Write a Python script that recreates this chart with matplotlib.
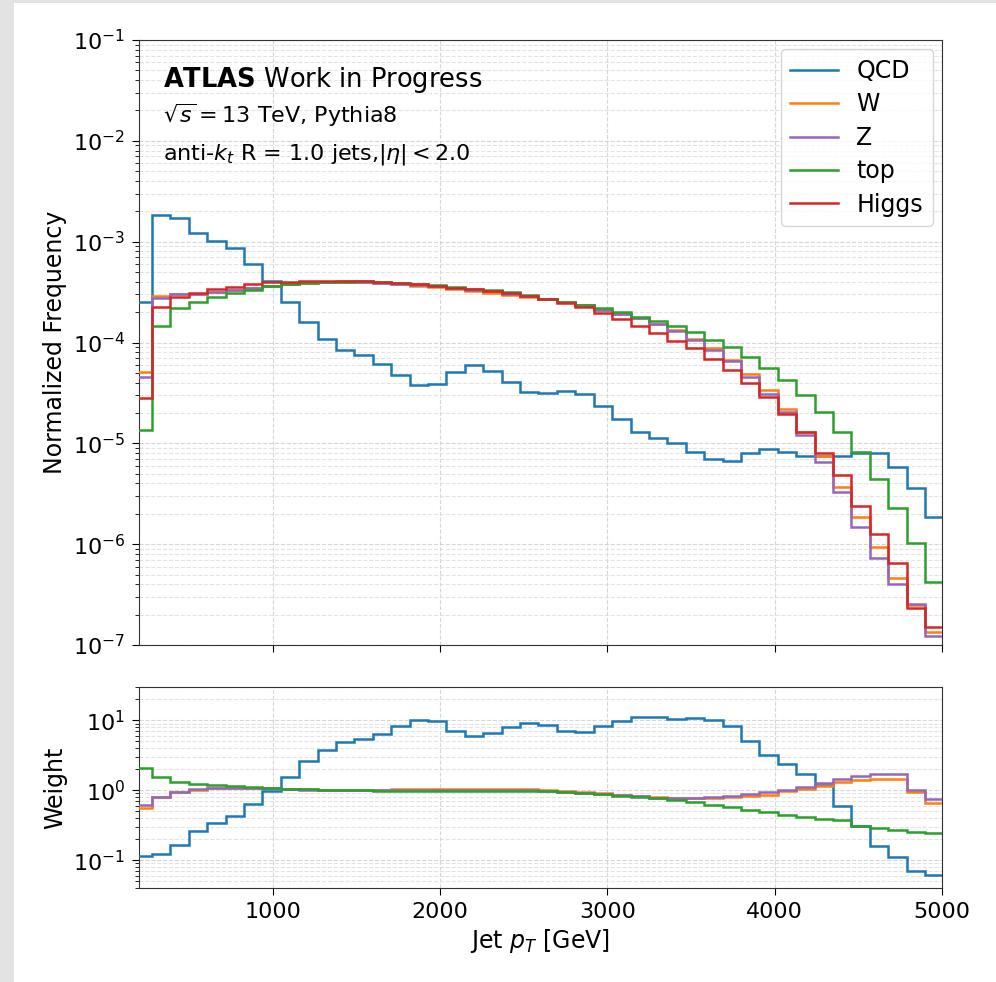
import numpy as np
import matplotlib
matplotlib.use("Agg")
import matplotlib.pyplot as plt
from matplotlib.patches import Rectangle

# ---------------- data ----------------
bin_edges = np.linspace(168, 5008, 45)  # jet pT bin edges [GeV]

qcd = [2.5e-4, 1.84e-3, 1.70e-3, 1.23e-3, 1.02e-3, 8.6e-4, 6.05e-4, 4.07e-4, 2.54e-4, 1.58e-4,
       1.08e-4, 8.5e-5, 7.5e-5, 6.1e-5, 4.76e-5, 3.8e-5, 3.85e-5, 5.06e-5, 5.98e-5, 5.2e-5,
       4.08e-5, 3.25e-5, 3.13e-5, 3.30e-5, 3.06e-5, 2.36e-5, 1.74e-5, 1.30e-5, 1.14e-5, 1.01e-5,
       8.26e-6, 7.0e-6, 6.68e-6, 7.96e-6, 8.8e-6, 8.26e-6, 7.54e-6, 7.54e-6, 7.54e-6, 8.1e-6,
       7.96e-6, 5.78e-6, 3.63e-6, 1.87e-6]
w_boson = [5.06e-5, 2.90e-4, 3.04e-4, 3.06e-4, 3.15e-4, 3.28e-4, 3.46e-4, 3.66e-4, 3.81e-4, 3.92e-4,
           3.98e-4, 3.99e-4, 3.97e-4, 3.89e-4, 3.78e-4, 3.66e-4, 3.52e-4, 3.39e-4, 3.23e-4, 3.12e-4,
           2.96e-4, 2.81e-4, 2.70e-4, 2.50e-4, 2.34e-4, 2.10e-4, 1.93e-4, 1.74e-4, 1.53e-4, 1.32e-4,
           1.09e-4, 8.75e-5, 6.70e-5, 4.87e-5, 3.38e-5, 2.17e-5, 1.30e-5, 7.49e-6, 3.72e-6, 1.87e-6,
           9.44e-7, 4.65e-7, 2.49e-7, 1.35e-7]
z_boson = [4.55e-5, 2.78e-4, 3.00e-4, 3.05e-4, 3.15e-4, 3.28e-4, 3.45e-4, 3.65e-4, 3.84e-4, 3.95e-4,
           4.01e-4, 4.03e-4, 4.01e-4, 3.93e-4, 3.82e-4, 3.73e-4, 3.60e-4, 3.47e-4, 3.34e-4, 3.22e-4,
           3.05e-4, 2.88e-4, 2.72e-4, 2.52e-4, 2.36e-4, 2.12e-4, 1.92e-4, 1.75e-4, 1.51e-4, 1.31e-4,
           1.07e-4, 8.43e-5, 6.55e-5, 4.58e-5, 3.06e-5, 2.03e-5, 1.21e-5, 6.48e-6, 3.29e-6, 1.49e-6,
           7.34e-7, 4.03e-7, 2.55e-7, 1.23e-7]
top_quark = [1.35e-5, 1.46e-4, 2.18e-4, 2.54e-4, 2.81e-4, 3.12e-4, 3.32e-4, 3.66e-4, 3.80e-4, 3.92e-4,
             3.98e-4, 4.02e-4, 4.03e-4, 3.98e-4, 3.90e-4, 3.80e-4, 3.68e-4, 3.55e-4, 3.43e-4, 3.31e-4,
             3.15e-4, 2.98e-4, 2.73e-4, 2.54e-4, 2.36e-4, 2.18e-4, 2.02e-4, 1.80e-4, 1.63e-4, 1.45e-4,
             1.26e-4, 1.07e-4, 8.95e-5, 7.13e-5, 5.58e-5, 4.25e-5, 3.01e-5, 2.06e-5, 1.30e-5, 8.14e-6,
             4.40e-6, 2.26e-6, 1.03e-6, 4.25e-7]
higgs = [2.79e-5, 2.23e-4, 2.85e-4, 3.12e-4, 3.37e-4, 3.58e-4, 3.77e-4, 3.95e-4, 4.00e-4, 4.04e-4,
         4.06e-4, 4.07e-4, 4.05e-4, 3.97e-4, 3.86e-4, 3.77e-4, 3.63e-4, 3.49e-4, 3.36e-4, 3.24e-4,
         3.07e-4, 2.89e-4, 2.70e-4, 2.44e-4, 2.23e-4, 1.95e-4, 1.71e-4, 1.46e-4, 1.25e-4, 1.04e-4,
         8.75e-5, 6.85e-5, 5.33e-5, 3.99e-5, 2.90e-5, 1.94e-5, 1.30e-5, 8.07e-6, 4.85e-6, 2.40e-6,
         1.26e-6, 6.46e-7, 2.31e-7, 1.50e-7]

wt_qcd = [0.113, 0.121, 0.166, 0.261, 0.340, 0.424, 0.635, 0.966, 1.53, 2.59,
          3.73, 4.89, 5.46, 6.44, 8.22, 10.2, 9.69, 7.11, 5.91, 6.59,
          8.04, 9.17, 8.66, 7.11, 6.81, 8.22, 9.89, 11.2, 11.0, 10.4,
          10.8, 10.0, 8.22, 5.11, 3.23, 2.37, 1.72, 1.20, 0.601, 0.305,
          0.161, 0.111, 0.069, 0.062]
wt_w = [0.557, 0.79, 0.93, 1.02, 1.07, 1.09, 1.09, 1.08, 1.05, 1.03,
        1.02, 1.02, 1.02, 1.02, 1.03, 1.04, 1.04, 1.05, 1.05, 1.05,
        1.05, 1.04, 1.00, 0.97, 0.93, 0.90, 0.86, 0.82, 0.79, 0.77,
        0.77, 0.77, 0.80, 0.836, 0.865, 0.965, 1.04, 1.14, 1.31, 1.39,
        1.45, 1.45, 0.935, 0.656]
wt_z = [0.62, 0.81, 0.94, 1.04, 1.08, 1.09, 1.09, 1.08, 1.04, 1.02,
        1.01, 1.01, 1.01, 1.01, 1.01, 1.01, 1.01, 1.01, 1.01, 1.01,
        1.01, 1.01, 0.99, 0.96, 0.91, 0.89, 0.85, 0.82, 0.78, 0.78,
        0.78, 0.79, 0.83, 0.883, 0.944, 1.02, 1.11, 1.27, 1.46, 1.58,
        1.71, 1.71, 1.00, 0.76]
wt_top = [2.08, 1.55, 1.31, 1.24, 1.20, 1.16, 1.12, 1.09, 1.05, 1.03,
          1.02, 1.01, 1.00, 0.99, 0.99, 0.99, 0.99, 0.98, 0.98, 0.98,
          0.975, 0.97, 0.966, 0.96, 0.91, 0.89, 0.84, 0.80, 0.77, 0.72,
          0.67, 0.62, 0.575, 0.527, 0.483, 0.447, 0.42, 0.39, 0.371, 0.305,
          0.288, 0.273, 0.250, 0.245]

labels = ["QCD", "W", "Z", "top", "Higgs"]
colors = ["#1f77b4", "#ff7f0e", "#9467bd", "#2ca02c", "#d62728"]

# ---------------- figure ----------------
W, H = 996, 982
fig = plt.figure(figsize=(W / 100, H / 100), dpi=100, facecolor="white")
fig.patches.append(Rectangle((0, 0), 14 / W, 1, transform=fig.transFigure,
                             facecolor="#e3e3e3", edgecolor="none", zorder=-10))
fig.patches.append(Rectangle((0, 1 - 3 / H), 1, 3 / H, transform=fig.transFigure,
                             facecolor="#e3e3e3", edgecolor="none", zorder=-10))

ax1 = fig.add_axes([139 / W, 1 - 645 / H, 803 / W, 605 / H])
ax2 = fig.add_axes([139 / W, 1 - 888 / H, 803 / W, 201 / H], sharex=ax1)

tick_fs = 16
lw = 1.8

for vals, lab, c in zip([qcd, w_boson, z_boson, top_quark, higgs], labels, colors):
    ax1.stairs(vals, bin_edges, baseline=None, color=c, lw=lw, label=lab, zorder=3)

for vals, c in zip([wt_qcd, wt_w, wt_z, wt_top], colors[:4]):
    ax2.stairs(vals, bin_edges, baseline=None, color=c, lw=lw, zorder=3)

for ax in (ax1, ax2):
    ax.set_yscale("log")
    ax.set_xlim(200, 5000)
    ax.set_axisbelow(True)
    ax.grid(which="major", ls="--", color="#cccccc", lw=0.8, alpha=0.8)
    ax.grid(which="minor", axis="y", ls="--", color="#dddddd", lw=0.8, alpha=0.8)
    ax.tick_params(labelsize=tick_fs, which="major", length=5, pad=5)
    ax.tick_params(which="minor", length=3)
    for s in ax.spines.values():
        s.set_color("#333333")

ax1.set_ylim(1e-7, 1e-1)
ax2.set_ylim(0.04, 30)
ax1.tick_params(labelbottom=False)
ax1.set_xticks([1000, 2000, 3000, 4000, 5000])

ax1.set_ylabel("Normalized Frequency", fontsize=17)
ax2.set_ylabel("Weight", fontsize=17)
ax2.set_xlabel("Jet $p_T$ [GeV]", fontsize=17)

ax1.text(0.030, 0.922, r"$\mathbf{ATLAS}$ Work in Progress", transform=ax1.transAxes,
         fontsize=18.5, va="baseline")
ax1.text(0.030, 0.863, r"$\sqrt{s} = 13$ TeV, Pythia8", transform=ax1.transAxes,
         fontsize=16, va="baseline")
ax1.text(0.030, 0.802, r"anti-$k_t$ R = 1.0 jets,$|\eta| < 2.0$", transform=ax1.transAxes,
         fontsize=16, va="baseline")

ax1.legend(loc="upper right", fontsize=17, framealpha=0.8, labelspacing=0.4,
           borderaxespad=0.4)

fig.savefig("out.png", dpi=100, facecolor=fig.get_facecolor())
